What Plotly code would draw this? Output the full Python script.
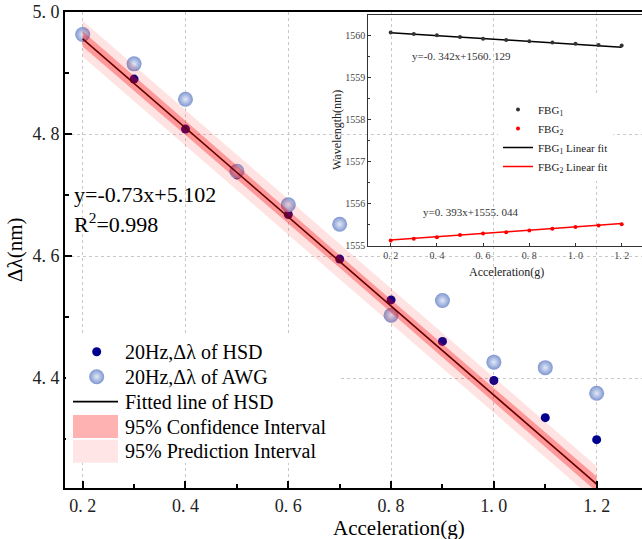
import plotly.graph_objects as go

# ---------------- data ----------------
accel = [0.2, 0.3, 0.4, 0.5, 0.6, 0.7, 0.8, 0.9, 1.0, 1.1, 1.2]
hsd = [4.962, 4.890, 4.808, 4.733, 4.668, 4.595, 4.528, 4.460, 4.396, 4.335, 4.299]
awg = [4.963, 4.915, 4.857, 4.739, 4.684, 4.652, 4.503, 4.527, 4.426, 4.417, 4.375]
fit_slope = -0.73
fit_intercept = 5.102
ci_half = [0.0125, 0.0118, 0.0112, 0.0108, 0.0105, 0.0104, 0.0105, 0.0108, 0.0112, 0.0118, 0.0125]
pi_half = [0.0295, 0.0292, 0.0290, 0.0288, 0.0287, 0.0287, 0.0287, 0.0288, 0.0290, 0.0292, 0.0295]

x_tick_alias = {"0.2": "0. 2", "0.4": "0. 4", "0.6": "0. 6", "0.8": "0. 8", "1.0": "1. 0", "1.2": "1. 2"}
y_tick_alias = {"4.4": "4. 4", "4.6": "4. 6", "4.8": "4. 8", "5.0": "5. 0"}

fbg1 = [1560.07, 1560.03, 1560.00, 1559.96, 1559.92, 1559.89, 1559.86, 1559.83, 1559.80, 1559.77, 1559.76]
fbg2 = [1555.11, 1555.15, 1555.19, 1555.24, 1555.28, 1555.31, 1555.35, 1555.39, 1555.43, 1555.47, 1555.50]
fbg1_slope, fbg1_intercept = -0.342, 1560.129
fbg2_slope, fbg2_intercept = 0.393, 1555.044

legend_labels = ["20Hz,\u0394\u03bb of HSD", "20Hz,\u0394\u03bb of AWG", "Fitted line of HSD",
                 "95% Confidence Interval", "95% Prediction Interval"]

# ---------------- geometry helpers (pixels -> paper) ----------------
W, H = 642, 539
ML, MR, MT, MB = 65, 0, 12, 51
PW, PH = W - ML - MR, H - MT - MB


def fx(px):
    return (px - ML) / PW


def fy(py):
    return (H - MB - py) / PH


FONT = "Liberation Serif"
HSD_COLOR = "#00008f"
AWG_COLOR = "#7f97d0"
AWG_GLOW = "#e2e8f7"
CI_FILL = "rgba(255,0,0,0.33)"
PI_FILL = "rgba(255,0,0,0.11)"

fit_y = [fit_slope * a + fit_intercept for a in accel]
ci_lo = [f - h for f, h in zip(fit_y, ci_half)]
ci_hi = [f + h for f, h in zip(fit_y, ci_half)]
pi_lo = [f - h for f, h in zip(fit_y, pi_half)]
pi_hi = [f + h for f, h in zip(fit_y, pi_half)]
fbg1_fit = [fbg1_slope * a + fbg1_intercept for a in accel]
fbg2_fit = [fbg2_slope * a + fbg2_intercept for a in accel]

fig = go.Figure()

# main chart
fig.add_trace(go.Scatter(x=accel, y=hsd, mode="markers", name=legend_labels[0], showlegend=False,
                         marker=dict(color=HSD_COLOR, size=9), xaxis="x", yaxis="y"))
fig.add_trace(go.Scatter(x=accel, y=awg, mode="markers", name=legend_labels[1], showlegend=False,
                         marker=dict(color=AWG_COLOR, size=15, gradient=dict(type="radial", color=AWG_GLOW)),
                         xaxis="x", yaxis="y"))
fig.add_trace(go.Scatter(x=[accel[0], accel[-1]], y=[fit_y[0], fit_y[-1]], mode="lines", name=legend_labels[2],
                         showlegend=False, line=dict(color="black", width=1.6), xaxis="x", yaxis="y"))
fig.add_trace(go.Scatter(x=accel, y=pi_lo, mode="lines", line=dict(width=0), showlegend=False,
                         hoverinfo="skip", xaxis="x", yaxis="y"))
fig.add_trace(go.Scatter(x=accel, y=pi_hi, mode="lines", line=dict(width=0), fill="tonexty", fillcolor=PI_FILL,
                         name=legend_labels[4], showlegend=False, xaxis="x", yaxis="y"))
fig.add_trace(go.Scatter(x=accel, y=ci_lo, mode="lines", line=dict(width=0), showlegend=False,
                         hoverinfo="skip", xaxis="x", yaxis="y"))
fig.add_trace(go.Scatter(x=accel, y=ci_hi, mode="lines", line=dict(width=0), fill="tonexty", fillcolor=CI_FILL,
                         name=legend_labels[3], showlegend=False, xaxis="x", yaxis="y"))

# inset chart
fig.add_trace(go.Scatter(x=accel, y=fbg1_fit, mode="lines", name="FBG<sub>1</sub> Linear fit",
                         line=dict(color="black", width=1.5), legendrank=3, xaxis="x2", yaxis="y2"))
fig.add_trace(go.Scatter(x=accel, y=fbg2_fit, mode="lines", name="FBG<sub>2</sub> Linear fit",
                         line=dict(color="red", width=1.5), legendrank=4, xaxis="x2", yaxis="y2"))
fig.add_trace(go.Scatter(x=accel, y=fbg1, mode="markers", name="FBG<sub>1</sub>",
                         marker=dict(color="#333333", size=4), legendrank=1, xaxis="x2", yaxis="y2"))
fig.add_trace(go.Scatter(x=accel, y=fbg2, mode="markers", name="FBG<sub>2</sub>",
                         marker=dict(color="red", size=4), legendrank=2, xaxis="x2", yaxis="y2"))

# manual legend for main chart (overlay axis in plot-area fractions)
lx0, lx1 = 73, 118
row_y = [351.7, 376.7, 401.7, 426.5, 451.2]
box_h = 11.5
fig.add_trace(go.Scatter(x=[fx(66), fx(338), fx(338), fx(66), fx(66)],
                         y=[fy(336), fy(336), fy(463), fy(463), fy(336)],
                         mode="lines", fill="toself", fillcolor="white", line=dict(width=0),
                         showlegend=False, hoverinfo="skip", xaxis="x3", yaxis="y3"))
fig.add_trace(go.Scatter(x=[fx(96.7)], y=[fy(row_y[0])], mode="markers", showlegend=False, hoverinfo="skip",
                         marker=dict(color=HSD_COLOR, size=9), xaxis="x3", yaxis="y3"))
fig.add_trace(go.Scatter(x=[fx(96.7)], y=[fy(row_y[1])], mode="markers", showlegend=False, hoverinfo="skip",
                         marker=dict(color=AWG_COLOR, size=15, gradient=dict(type="radial", color=AWG_GLOW)),
                         xaxis="x3", yaxis="y3"))
fig.add_trace(go.Scatter(x=[fx(lx0), fx(lx1)], y=[fy(row_y[2])] * 2, mode="lines", showlegend=False,
                         hoverinfo="skip", line=dict(color="black", width=1.8), xaxis="x3", yaxis="y3"))
for ry, col in ((row_y[3], "rgba(255,0,0,0.30)"), (row_y[4], "rgba(255,0,0,0.10)")):
    fig.add_trace(go.Scatter(x=[fx(lx0), fx(lx1), fx(lx1), fx(lx0), fx(lx0)],
                             y=[fy(ry - box_h), fy(ry - box_h), fy(ry + box_h), fy(ry + box_h), fy(ry - box_h)],
                             mode="lines", fill="toself", fillcolor=col, line=dict(width=0),
                             showlegend=False, hoverinfo="skip", xaxis="x3", yaxis="y3"))

annotations = []
for lab, ry in zip(legend_labels, row_y):
    annotations.append(dict(x=fx(123), y=fy(ry), xref="paper", yref="paper", text=lab, showarrow=False,
                            xanchor="left", yanchor="middle", font=dict(family=FONT, size=20, color="black")))

# equation text
annotations.append(dict(x=fx(72), y=fy(194), xref="paper", yref="paper", text="y=-0.73x+5.102",
                        showarrow=False, xanchor="left", yanchor="middle",
                        font=dict(family=FONT, size=22, color="black")))
annotations.append(dict(x=fx(72), y=fy(223), xref="paper", yref="paper", text="R<sup>2</sup>=0.998",
                        showarrow=False, xanchor="left", yanchor="middle",
                        font=dict(family=FONT, size=22, color="black")))
# axis titles
annotations.append(dict(x=fx(399), y=fy(528), xref="paper", yref="paper", text="Acceleration(g)",
                        showarrow=False, xanchor="center", yanchor="middle",
                        font=dict(family=FONT, size=21, color="black")))
annotations.append(dict(x=fx(15), y=fy(250), xref="paper", yref="paper", text="\u0394\u03bb(nm)", textangle=-90,
                        showarrow=False, xanchor="center", yanchor="middle",
                        font=dict(family=FONT, size=21, color="black")))
# inset texts
annotations.append(dict(x=fx(410), y=fy(56), xref="paper", yref="paper", text="y=-0. 342x+1560. 129",
                        showarrow=False, xanchor="left", yanchor="middle",
                        font=dict(family=FONT, size=11, color="#333333")))
annotations.append(dict(x=fx(421), y=fy(212), xref="paper", yref="paper", text="y=0. 393x+1555. 044",
                        showarrow=False, xanchor="left", yanchor="middle",
                        font=dict(family=FONT, size=11, color="#333333")))
annotations.append(dict(x=fx(506), y=fy(272), xref="paper", yref="paper", text="Acceleration(g)",
                        showarrow=False, xanchor="center", yanchor="middle",
                        font=dict(family=FONT, size=12, color="#222222")))
annotations.append(dict(x=fx(337), y=fy(130), xref="paper", yref="paper", text="Wavelength(nm)", textangle=-90,
                        showarrow=False, xanchor="center", yanchor="middle",
                        font=dict(family=FONT, size=12, color="#222222")))

grid = dict(showgrid=True, gridcolor="#c8c8c8", griddash="dot", gridwidth=1)

fig.update_layout(
    width=W, height=H,
    margin=dict(l=ML, r=MR, t=MT, b=MB, pad=0),
    paper_bgcolor="white", plot_bgcolor="rgba(0,0,0,0)",
    font=dict(family=FONT, color="black"),
    showlegend=True,
    legend=dict(x=fx(498), y=fy(95), xanchor="left", yanchor="top", bgcolor="white", traceorder="normal",
                font=dict(family=FONT, size=11, color="#222222"), itemwidth=30),
    annotations=annotations,
    xaxis=dict(domain=[0, 1], anchor="y", range=[0.1656, 1.2882], tickmode="linear", tick0=0.2, dtick=0.2,
               tickformat=".1f", labelalias=x_tick_alias, ticks="inside", ticklen=7, tickwidth=2,
               tickcolor="black", showline=True, linewidth=2, linecolor="black", mirror=True, zeroline=False,
               tickfont=dict(family=FONT, size=18, color="#222222"),
               minor=dict(dtick=0.1, ticks="inside", ticklen=4, tickwidth=1.5, tickcolor="black",
                          showgrid=False), **grid),
    yaxis=dict(domain=[0, 1], anchor="x", range=[4.2197, 5.0], tickmode="linear", tick0=4.4, dtick=0.2,
               tickformat=".1f", labelalias=y_tick_alias, ticks="inside", ticklen=7, tickwidth=2,
               tickcolor="black", showline=True, linewidth=2, linecolor="black", mirror=False, zeroline=False,
               tickfont=dict(family=FONT, size=18, color="#222222"),
               minor=dict(dtick=0.1, ticks="inside", ticklen=4, tickwidth=1.5, tickcolor="black",
                          showgrid=False), **grid),
    xaxis2=dict(domain=[fx(368.3), 1], anchor="y2", range=[0.103, 1.288], tickmode="linear", tick0=0.2,
                dtick=0.2, tickformat=".1f", labelalias=x_tick_alias, ticks="inside", ticklen=3, tickwidth=1,
                tickcolor="#333333", showline=True, linewidth=1.2, linecolor="#333333", mirror=True,
                zeroline=False, showgrid=False, tickfont=dict(family=FONT, size=10, color="#444444")),
    yaxis2=dict(domain=[fy(246), fy(14.8)], anchor="x2", range=[1554.98, 1560.49], tickmode="linear",
                tick0=1555, dtick=1, ticks="inside", ticklen=3, tickwidth=1, tickcolor="#333333",
                showline=True, linewidth=1.2, linecolor="#333333", mirror=False, zeroline=False, showgrid=False,
                tickfont=dict(family=FONT, size=10, color="#444444"),
                minor=dict(dtick=0.5, ticks="inside", ticklen=2, tickcolor="#333333", showgrid=False)),
    xaxis3=dict(domain=[0, 1], anchor="y3", range=[0, 1], visible=False, fixedrange=True),
    yaxis3=dict(domain=[0, 1], anchor="x3", range=[0, 1], visible=False, fixedrange=True),
)

fig.write_html("out.html")
